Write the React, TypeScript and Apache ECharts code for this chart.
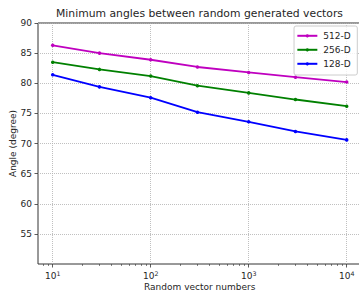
import React, { useEffect, useRef } from 'react';
import * as echarts from 'echarts';

const vectorNumbers = [10, 30, 100, 300, 1000, 3000, 10000];
const angles512 = [86.3, 85.0, 83.9, 82.7, 81.8, 81.0, 80.2];
const angles256 = [83.5, 82.3, 81.2, 79.6, 78.4, 77.3, 76.2];
const angles128 = [81.4, 79.4, 77.6, 75.2, 73.6, 72.0, 70.6];
const seriesNames = ['512-D', '256-D', '128-D'];
const seriesColors = ['#bf00bf', '#008000', '#0000ff'];
const xMajorTicks = [10, 100, 1000, 10000];
const xMinorTicks = [8, 9, 20, 30, 40, 50, 60, 70, 80, 90, 200, 300, 400, 500, 600, 700, 800, 900,
  2000, 3000, 4000, 5000, 6000, 7000, 8000, 9000];
const yTicks = [55, 60, 65, 70, 75, 80, 85, 90];

const FONT = 'DejaVu Sans';
const TXT = '#262626';

export default function App() {
  const ref = useRef<HTMLDivElement>(null);
  useEffect(() => {
    document.body.style.margin = '0';
    const chart = echarts.init(ref.current!, null, { renderer: 'svg' });
    const all = [angles512, angles256, angles128];
    const xMin = Math.pow(10, 0.85);
    const xMax = Math.pow(10, 4.15);
    chart.setOption({
      animation: false,
      textStyle: { fontFamily: FONT },
      title: {
        text: 'Minimum angles between random generated vectors',
        left: 56,
        top: 8,
        padding: 0,
        textStyle: { fontFamily: FONT, fontSize: 10.8, fontWeight: 'normal', color: TXT },
      },
      grid: {
        left: 38, right: -2.4, top: 23, bottom: 29,
        outerBoundsMode: 'none',
        containLabel: false,
        show: true, borderColor: '#333', borderWidth: 1, backgroundColor: 'transparent',
      },
      legend: {
        data: seriesNames,
        orient: 'vertical',
        right: 1.7,
        top: 26,
        itemWidth: 20,
        itemHeight: 4,
        itemGap: 5,
        padding: [5.3, 6.6, 6.7, 2.3],
        borderColor: '#cccccc',
        borderWidth: 1,
        borderRadius: 2,
        backgroundColor: 'rgba(255,255,255,0.8)',
        textStyle: { fontFamily: FONT, fontSize: 9, lineHeight: 8, color: TXT, padding: [0, 0, 0, 1] },
      },
      xAxis: [
        {
          type: 'log',
          logBase: 10,
          min: xMin,
          max: xMax,
          name: 'Random vector numbers',
          nameLocation: 'middle',
          nameGap: 18,
          nameMoveOverlap: false,
          nameTextStyle: { fontFamily: FONT, fontSize: 9, color: TXT },
          axisLine: { show: false },
          axisTick: { customValues: xMajorTicks, length: 3.5, lineStyle: { color: '#333', width: 0.8 } },
          axisLabel: {
            customValues: xMajorTicks,
            margin: 6,
            color: TXT,
            fontSize: 9,
            fontFamily: FONT,
            formatter: (v: number) => `10{sup|${Math.round(Math.log10(v))}}`,
            rich: { sup: { fontSize: 6.3, fontFamily: FONT, color: TXT, padding: [0, 0, 5, 0] } },
          },
          splitLine: { show: true, lineStyle: { type: [1, 1], color: '#b0b0b0', width: 0.8 } },
        },
        {
          type: 'log',
          logBase: 10,
          min: xMin,
          max: xMax,
          gridIndex: 0,
          position: 'bottom',
          axisLine: { show: false },
          axisTick: { customValues: xMinorTicks, length: 2, lineStyle: { color: '#333', width: 0.6 } },
          axisLabel: { show: false },
          splitLine: { show: false },
        },
      ],
      yAxis: {
        type: 'value',
        min: 50,
        max: 90,
        interval: 5,
        name: 'Angle (degree)',
        nameLocation: 'middle',
        nameGap: 20.5,
        nameMoveOverlap: false,
        nameTextStyle: { fontFamily: FONT, fontSize: 9, color: TXT },
        axisLine: { show: false },
        axisTick: { customValues: yTicks, length: 3.5, lineStyle: { color: '#333', width: 0.8 } },
        axisLabel: { customValues: yTicks, margin: 6, color: TXT, fontSize: 9, fontFamily: FONT },
        splitLine: { show: true, lineStyle: { type: [1, 1], color: '#b0b0b0', width: 0.8 } },
      },
      series: seriesNames.map((name, si) => ({
        name,
        type: 'line',
        xAxisIndex: 0,
        data: vectorNumbers.map((x, i) => [x, all[si][i]]),
        color: seriesColors[si],
        symbol: 'circle',
        symbolSize: 3.5,
        showSymbol: true,
        lineStyle: { width: 1.8, color: seriesColors[si] },
        itemStyle: { color: seriesColors[si] },
      })),
    });
    return () => chart.dispose();
  }, []);
  return <div ref={ref} style={{ width: 359, height: 293 }} />;
}
